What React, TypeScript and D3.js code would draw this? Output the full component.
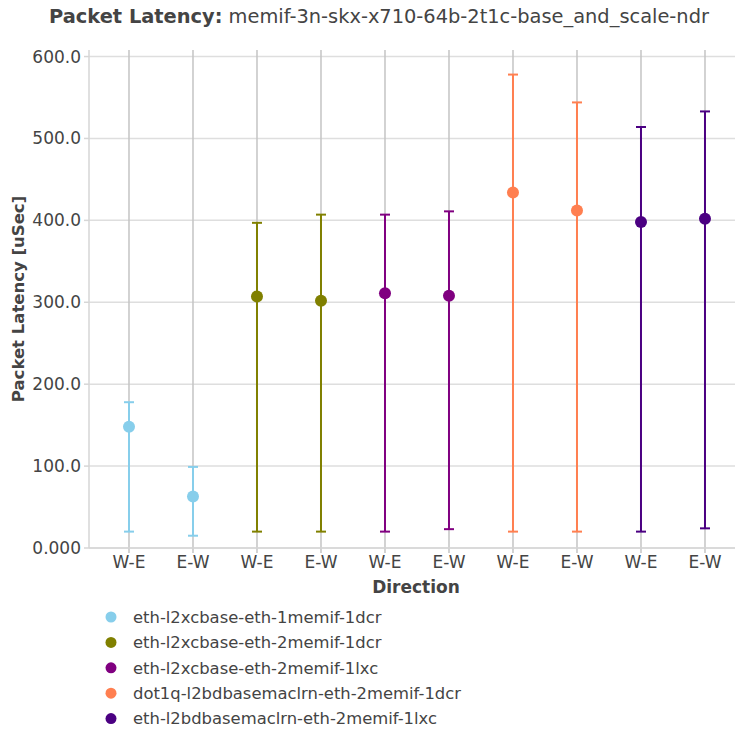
import React, { useRef, useLayoutEffect } from "react";
import * as d3 from "d3";

const titleBold = "Packet Latency:";
const titleRest = " memif-3n-skx-x710-64b-2t1c-base_and_scale-ndr";

const directions = ["W-E", "E-W"];
const seriesNames = [
  "eth-l2xcbase-eth-1memif-1dcr",
  "eth-l2xcbase-eth-2memif-1dcr",
  "eth-l2xcbase-eth-2memif-1lxc",
  "dot1q-l2bdbasemaclrn-eth-2memif-1dcr",
  "eth-l2bdbasemaclrn-eth-2memif-1lxc",
];
const seriesColors = ["#87CEEB", "#808000", "#800080", "#FF7F50", "#4B0082"];

// per series: [W-E, E-W]
const avgLat = [
  [148, 63],
  [307, 302],
  [311, 308],
  [434, 412],
  [398, 402],
];
const maxLat = [
  [178, 99],
  [397, 407],
  [407, 411],
  [578, 544],
  [514, 533],
];
const minLat = [
  [20, 15],
  [20, 20],
  [20, 23],
  [20, 20],
  [20, 24],
];

const yTickValues = [0, 100, 200, 300, 400, 500, 600];
const yTickLabels = ["0.000", "100.0", "200.0", "300.0", "400.0", "500.0", "600.0"];

const W = 735;
const H = 734;
const FONT = "'DejaVu Sans', sans-serif";
const TXT = "#444";

export default function App() {
  const svgRef = useRef<SVGSVGElement | null>(null);

  useLayoutEffect(() => {
    const svg = svgRef.current;
    if (!svg) return;
    const sel = d3.select(svg);
    sel.selectAll("*").remove();

    const M = { l: 89, r: 0, t: 50, b: 186 };
    const plotBottom = H - M.b;

    const x = d3.scaleLinear().domain([-0.625, 9.469]).range([M.l, W - M.r]);
    const y = d3.scaleLinear().domain([0, 608]).range([plotBottom, M.t]);

    const points: any[] = [];
    seriesNames.forEach((name, s) => {
      directions.forEach((dir, d) => {
        points.push({
          idx: s * 2 + d,
          dir,
          color: seriesColors[s],
          avg: avgLat[s][d],
          max: maxLat[s][d],
          min: minLat[s][d],
        });
      });
    });

    // horizontal grid
    sel
      .append("g")
      .selectAll("line")
      .data(yTickValues)
      .enter()
      .append("line")
      .attr("x1", M.l)
      .attr("x2", W - M.r)
      .attr("y1", (v) => y(v))
      .attr("y2", (v) => y(v))
      .attr("stroke", "#dedede")
      .attr("stroke-width", 1.5);

    // vertical grid + ticks
    sel
      .append("g")
      .selectAll("line")
      .data(points)
      .enter()
      .append("line")
      .attr("x1", (p) => x(p.idx))
      .attr("x2", (p) => x(p.idx))
      .attr("y1", M.t)
      .attr("y2", plotBottom + 5)
      .attr("stroke", "#c4c4c4")
      .attr("stroke-width", 1.5);

    // axis lines
    sel
      .append("line")
      .attr("x1", M.l)
      .attr("x2", W - M.r)
      .attr("y1", plotBottom)
      .attr("y2", plotBottom)
      .attr("stroke", "#d6d6d6")
      .attr("stroke-width", 1.5);
    sel
      .append("line")
      .attr("x1", M.l)
      .attr("x2", M.l)
      .attr("y1", M.t)
      .attr("y2", plotBottom)
      .attr("stroke", "#d6d6d6")
      .attr("stroke-width", 1.5);

    // y ticks
    const yt = sel.append("g");
    yTickValues.forEach((v, i) => {
      yt.append("line")
        .attr("x1", M.l - 5)
        .attr("x2", M.l)
        .attr("y1", y(v))
        .attr("y2", y(v))
        .attr("stroke", "#d6d6d6")
        .attr("stroke-width", 1.5);
      yt.append("text")
        .attr("x", M.l - 8)
        .attr("y", y(v))
        .attr("dy", "0.35em")
        .attr("text-anchor", "end")
        .attr("font-family", FONT)
        .attr("font-size", 17)
        .attr("fill", TXT)
        .text(yTickLabels[i]);
    });

    // x tick labels
    sel
      .append("g")
      .selectAll("text")
      .data(points)
      .enter()
      .append("text")
      .attr("x", (p) => x(p.idx))
      .attr("y", plotBottom + 20)
      .attr("text-anchor", "middle")
      .attr("font-family", FONT)
      .attr("font-size", 17)
      .attr("fill", TXT)
      .text((p) => p.dir);

    // error bars
    const eb = sel.append("g");
    points.forEach((p) => {
      const cx = x(p.idx);
      eb.append("line")
        .attr("x1", cx)
        .attr("x2", cx)
        .attr("y1", y(p.min))
        .attr("y2", y(p.max))
        .attr("stroke", p.color)
        .attr("stroke-width", 2);
      [p.min, p.max].forEach((v) => {
        eb.append("line")
          .attr("x1", cx - 5)
          .attr("x2", cx + 5)
          .attr("y1", y(v))
          .attr("y2", y(v))
          .attr("stroke", p.color)
          .attr("stroke-width", 2);
      });
    });

    // markers
    sel
      .append("g")
      .selectAll("circle")
      .data(points)
      .enter()
      .append("circle")
      .attr("cx", (p) => x(p.idx))
      .attr("cy", (p) => y(p.avg))
      .attr("r", 6)
      .attr("fill", (p) => p.color);

    // title
    const t = sel
      .append("text")
      .attr("x", 379)
      .attr("y", 23)
      .attr("text-anchor", "middle")
      .attr("font-family", FONT)
      .attr("font-size", 19.4)
      .attr("fill", TXT);
    t.append("tspan").attr("font-weight", "bold").text(titleBold);
    t.append("tspan").text(titleRest);

    // axis titles
    sel
      .append("text")
      .attr("x", 416)
      .attr("y", plotBottom + 45)
      .attr("text-anchor", "middle")
      .attr("font-family", FONT)
      .attr("font-size", 17)
      .attr("font-weight", "bold")
      .attr("fill", TXT)
      .text("Direction");

    const yMid = (M.t + plotBottom) / 2;
    sel
      .append("text")
      .attr("transform", `translate(24,${yMid}) rotate(-90)`)
      .attr("text-anchor", "middle")
      .attr("font-family", FONT)
      .attr("font-size", 16.5)
      .attr("font-weight", "bold")
      .attr("fill", TXT)
      .text("Packet Latency [uSec]");

    // legend
    const lg = sel.append("g");
    seriesNames.forEach((name, s) => {
      const ly = 617 + s * 25.4;
      lg.append("circle")
        .attr("cx", 111)
        .attr("cy", ly)
        .attr("r", 5.5)
        .attr("fill", seriesColors[s]);
      lg.append("text")
        .attr("x", 133)
        .attr("y", ly)
        .attr("dy", "0.35em")
        .attr("font-family", FONT)
        .attr("font-size", 16.4)
        .attr("fill", TXT)
        .text(name);
    });
  }, []);

  return (
    <svg
      ref={svgRef}
      width={W}
      height={H}
      style={{ position: "absolute", left: 0, top: 0, background: "#fff" }}
    />
  );
}
